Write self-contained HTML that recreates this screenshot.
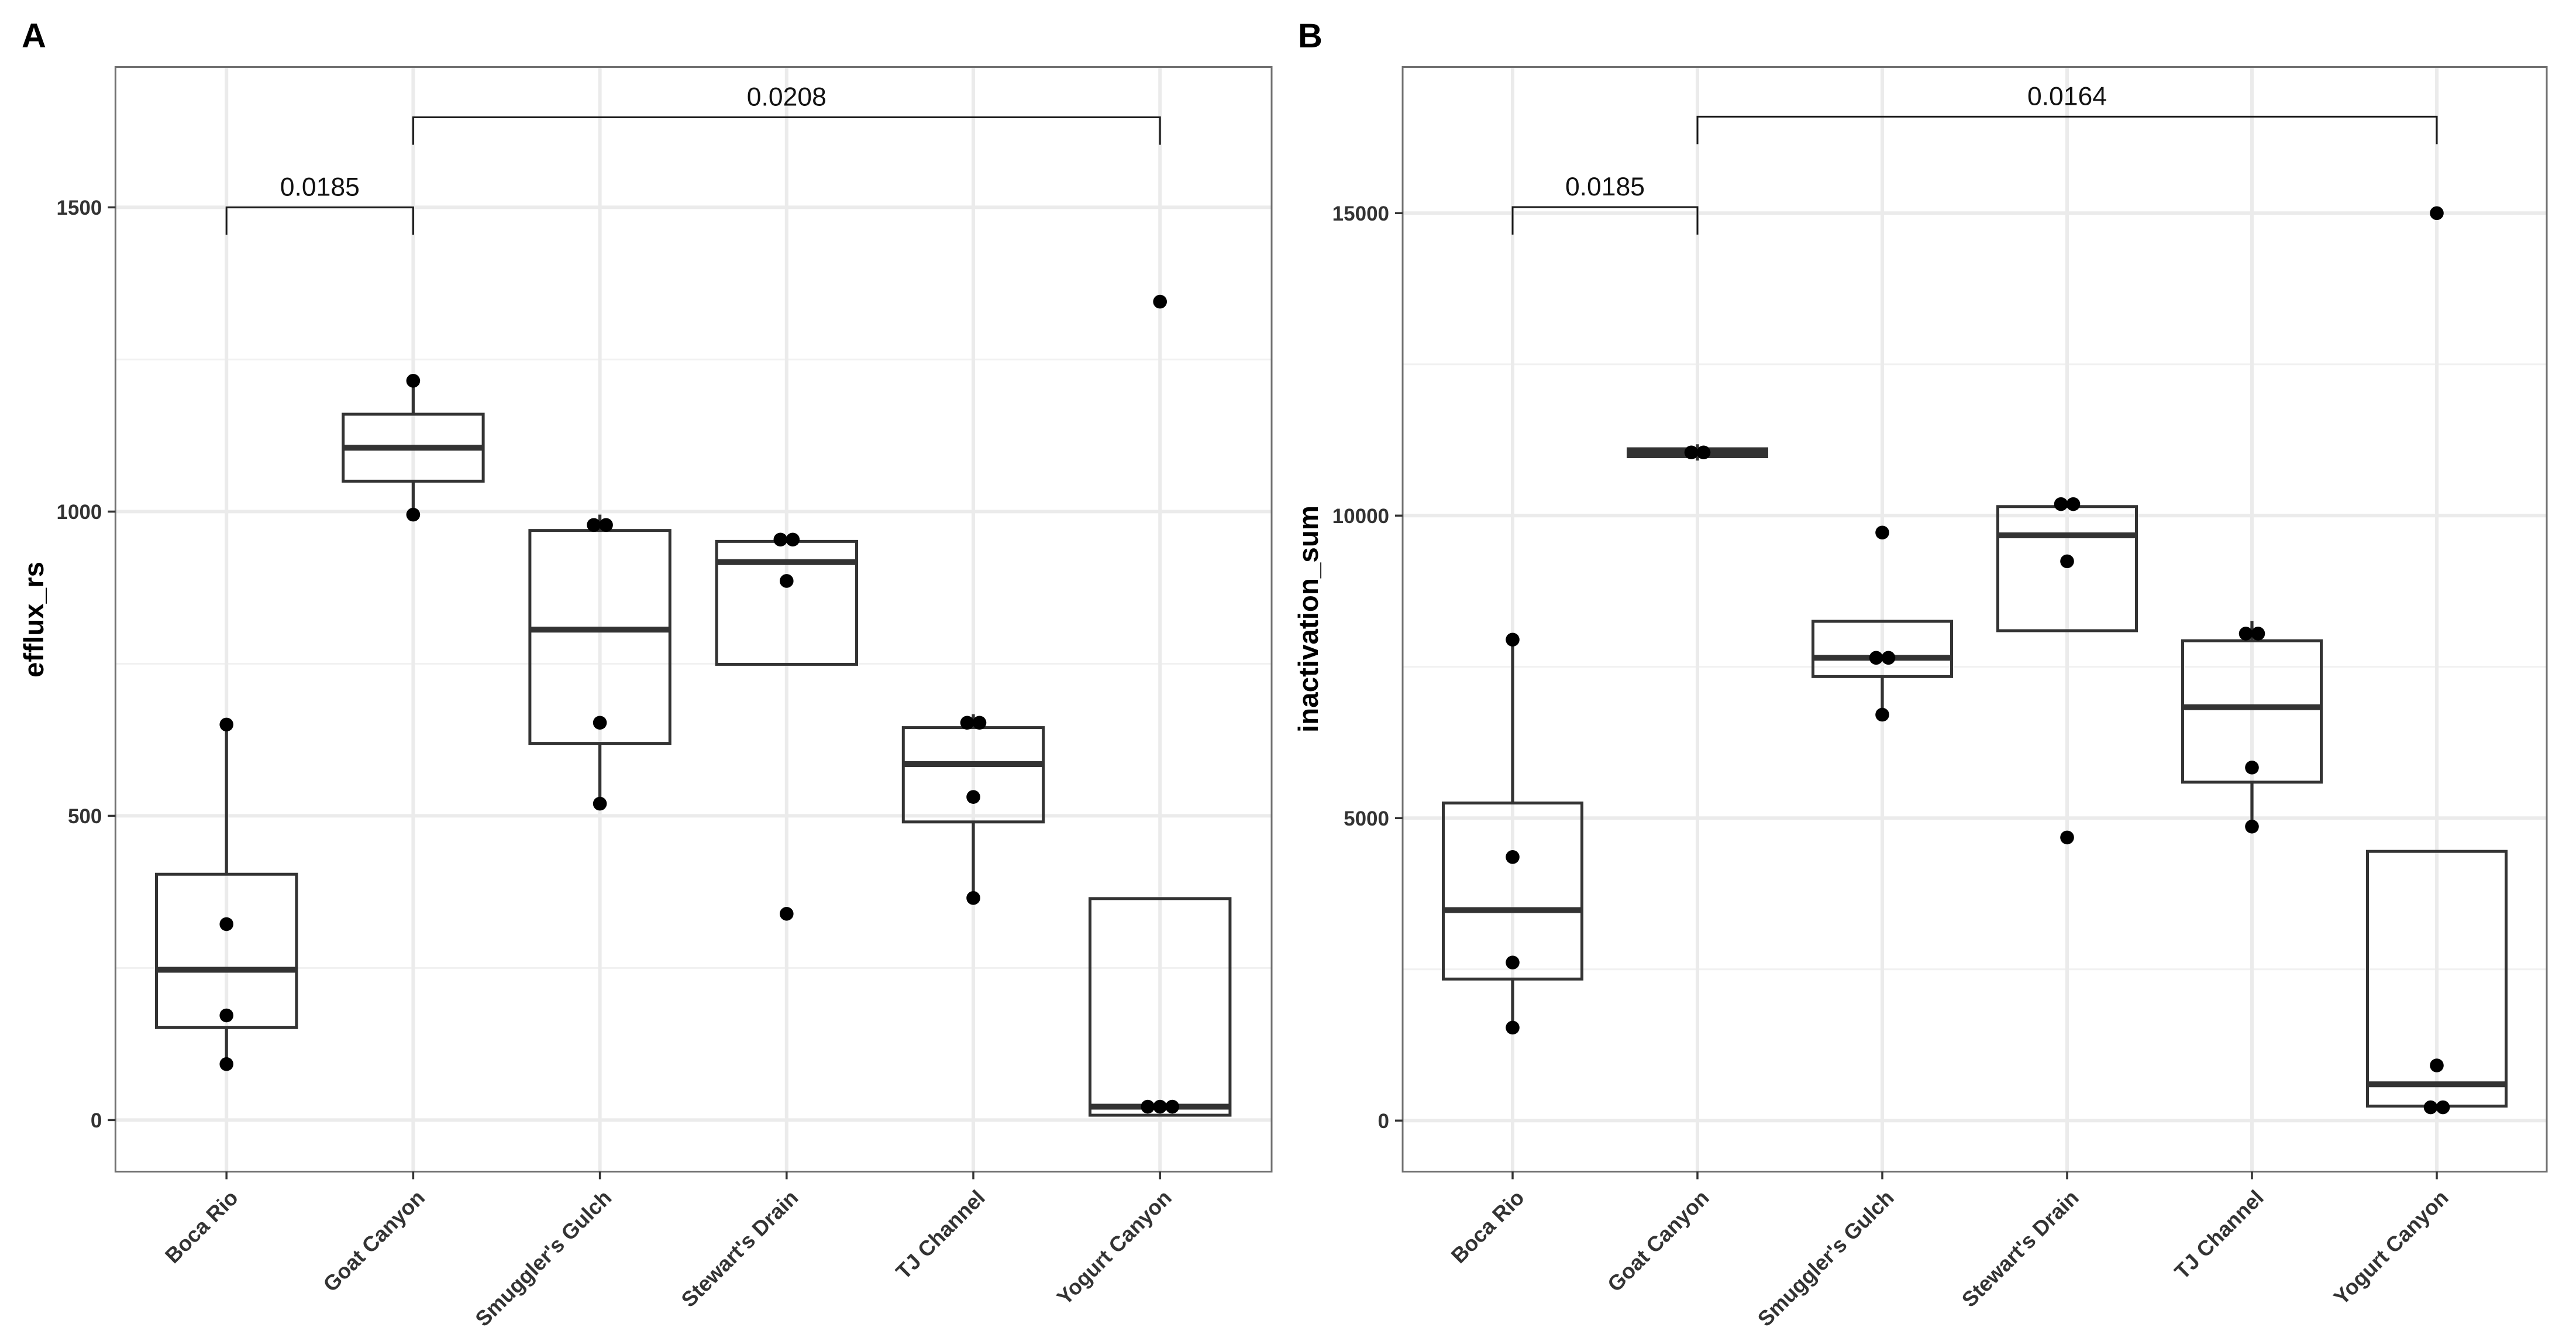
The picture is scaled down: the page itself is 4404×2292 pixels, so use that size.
<!DOCTYPE html>
<html lang="en">
<head>
<meta charset="utf-8">
<title>Box plots of efflux_rs and inactivation_sum by site</title>
<style>
  html, body { margin: 0; padding: 0; background: #ffffff; }
  body { width: 4404px; height: 2292px; overflow: hidden; }
  svg { display: block; }
  text { font-family: "Liberation Sans", sans-serif; }
</style>
</head>
<body>
<svg id="figure" xmlns="http://www.w3.org/2000/svg" width="4404" height="2292" viewBox="0 0 4404 2292">
  <rect x="0" y="0" width="4404" height="2292" fill="#ffffff"/>
  <text x="37" y="81" font-size="58" font-weight="700" fill="#000000">A</text>
  <text x="2219" y="81" font-size="58" font-weight="700" fill="#000000">B</text>
  <text transform="translate(74 1059) rotate(-90)" text-anchor="middle" font-size="47.5" font-weight="700" fill="#000000">efflux_rs</text>
  <text transform="translate(2253 1058) rotate(-90)" text-anchor="middle" font-size="47.5" font-weight="700" fill="#000000">inactivation_sum</text>
  <g id="panel-a"></g>
  <g id="panel-b"></g>
</svg>
<script>
// Shared categories
const categories = ["Boca Rio", "Goat Canyon", "Smuggler's Gulch", "Stewart's Drain", "TJ Channel", "Yogurt Canyon"];

// Panel A: efflux_rs
const effluxTicks = [0, 500, 1000, 1500];
const effluxMinorTicks = [250, 750, 1250];
const effluxQ1 = [152, 1050, 619, 749, 490, 8];
const effluxMedian = [247, 1105, 806, 917, 585, 22];
const effluxQ3 = [404, 1160, 969, 951, 645, 364];
const effluxWhiskerLow = [92, 995, 520, 749, 365, 8];
const effluxWhiskerHigh = [650, 1215, 995, 954, 667, 364];
const effluxPoints = [
  [650, 322, 172, 92],
  [1215, 995],
  [978, 978, 653, 520],
  [954, 954, 886, 339],
  [653, 653, 531, 365],
  [1345, 22, 22, 22]
];
const effluxBracketFrom = [0, 1];
const effluxBracketTo = [1, 5];
const effluxBracketLevel = [1500, 1648];
const effluxBracketLabels = ["0.0185", "0.0208"];

// Panel B: inactivation_sum
const inactivationTicks = [0, 5000, 10000, 15000];
const inactivationMinorTicks = [2500, 7500, 12500];
const inactivationQ1 = [2340, 10975, 7340, 8098, 5594, 240];
const inactivationMedian = [3480, 11040, 7650, 9674, 6833, 600];
const inactivationQ3 = [5250, 11105, 8253, 10150, 7932, 4450];
const inactivationWhiskerLow = [1537, 10910, 6710, 8098, 4860, 240];
const inactivationWhiskerHigh = [7950, 11180, 8253, 10190, 8260, 4450];
const inactivationPoints = [
  [7950, 4357, 2613, 1537],
  [11045, 11045],
  [9720, 7650, 7650, 6710],
  [10190, 10190, 9245, 4680],
  [8050, 8050, 5836, 4860],
  [15000, 912, 220, 220]
];
const inactivationBracketFrom = [0, 1];
const inactivationBracketTo = [1, 5];
const inactivationBracketLevel = [15100, 16595];
const inactivationBracketLabels = ["0.0185", "0.0164"];

const SVG_NS = "http://www.w3.org/2000/svg";

function make(parent, tag, attrs, name, text) {
  const el = document.createElementNS(SVG_NS, tag);
  for (const key in attrs) el.setAttribute(key, attrs[key]);
  
  
  if (text !== undefined) el.textContent = text;
  parent.appendChild(el);
  return el;
}

function slug(s) {
  return s.toLowerCase().replace(/[^a-z0-9]+/g, '-');
}

function drawPanel(p) {
  const root = document.getElementById(p.id);
  const xScale = i => p.xFirst + i * p.xStep;
  const yScale = v => p.yZero - v * p.yPerUnit;
  const boxHalf = p.xStep * 0.375;

  // Minor gridlines
  p.minorTicks.forEach(t => {
    make(root, 'line', { x1: p.left, x2: p.right, y1: yScale(t), y2: yScale(t), stroke: '#f1f1f1', 'stroke-width': 3 }, p.id + '-minor-gridline-' + t);
  });
  // Major gridlines
  p.ticks.forEach(t => {
    make(root, 'line', { x1: p.left, x2: p.right, y1: yScale(t), y2: yScale(t), stroke: '#ebebeb', 'stroke-width': 6 }, p.id + '-major-gridline-' + t);
  });
  categories.forEach((c, i) => {
    make(root, 'line', { x1: xScale(i), x2: xScale(i), y1: p.top, y2: p.bottom, stroke: '#ebebeb', 'stroke-width': 6 }, p.id + '-vertical-gridline-' + slug(c));
  });

  // Boxes
  categories.forEach((c, i) => {
    const cx = xScale(i);
    const g = make(root, 'g', {}, p.id + '-box-' + slug(c));
    if (p.whiskerHigh[i] > p.q3[i]) {
      make(g, 'line', { x1: cx, x2: cx, y1: yScale(p.q3[i]), y2: yScale(p.whiskerHigh[i]), stroke: '#333333', 'stroke-width': 5.2 }, 'upper-whisker');
    }
    if (p.whiskerLow[i] < p.q1[i]) {
      make(g, 'line', { x1: cx, x2: cx, y1: yScale(p.q1[i]), y2: yScale(p.whiskerLow[i]), stroke: '#333333', 'stroke-width': 5.2 }, 'lower-whisker');
    }
    make(g, 'rect', {
      x: cx - boxHalf, y: yScale(p.q3[i]), width: boxHalf * 2,
      height: yScale(p.q1[i]) - yScale(p.q3[i]),
      fill: 'none', stroke: '#333333', 'stroke-width': 5
    }, 'interquartile-box');
    make(g, 'line', { x1: cx - boxHalf, x2: cx + boxHalf, y1: yScale(p.median[i]), y2: yScale(p.median[i]), stroke: '#333333', 'stroke-width': 10 }, 'median-line');
  });

  // Points: tied values sit side by side
  categories.forEach((c, i) => {
    const vals = p.points[i];
    const groups = [];
    vals.forEach(v => {
      const hit = groups.find(g => Math.abs(yScale(g[0]) - yScale(v)) < 3);
      if (hit) hit.push(v); else groups.push([v]);
    });
    groups.forEach(group => {
      group.forEach((v, k) => {
        const off = (k - (group.length - 1) / 2) * p.dotGap;
        make(root, 'circle', { cx: xScale(i) + off, cy: yScale(v), r: 11.8, fill: '#000000' }, p.id + '-point-' + slug(c));
      });
    });
  });

  // Significance brackets
  p.bracketLabels.forEach((label, b) => {
    const x1 = xScale(p.bracketFrom[b]);
    const x2 = xScale(p.bracketTo[b]);
    const y = yScale(p.bracketLevel[b]);
    const g = make(root, 'g', {}, p.id + '-significance-bracket-' + label);
    make(g, 'path', {
      d: 'M' + x1 + ' ' + (y + 47) + 'V' + y + 'H' + x2 + 'V' + (y + 47),
      fill: 'none', stroke: '#1a1a1a', 'stroke-width': 3
    }, 'bracket-line');
    make(g, 'text', {
      x: (x1 + x2) / 2, y: y - 20, 'text-anchor': 'middle', 'font-size': 44.5, fill: '#111111'
    }, 'p-value-label', label);
  });

  // Panel border
  make(root, 'rect', { x: p.left, y: p.top, width: p.right - p.left, height: p.bottom - p.top, fill: 'none', stroke: '#707070', 'stroke-width': 3 }, p.id + '-border');

  // Y axis
  p.ticks.forEach(t => {
    make(root, 'line', { x1: p.left - 13, x2: p.left, y1: yScale(t), y2: yScale(t), stroke: '#333333', 'stroke-width': 3.5 }, p.id + '-y-tick-' + t);
    make(root, 'text', { x: p.left - 23, y: yScale(t) + 12.5, 'text-anchor': 'end', 'font-size': 35, 'font-weight': 700, fill: '#333333' }, p.id + '-y-tick-label-' + t, String(t));
  });

  // X axis
  categories.forEach((c, i) => {
    const cx = xScale(i);
    make(root, 'line', { x1: cx, x2: cx, y1: p.bottom, y2: p.bottom + 13, stroke: '#333333', 'stroke-width': 3.5 }, p.id + '-x-tick-' + slug(c));
    make(root, 'text', {
      transform: 'translate(' + (cx + 22) + ' ' + (p.bottom + 47) + ') rotate(-45)',
      'text-anchor': 'end', 'font-size': 36.5, 'font-weight': 700, fill: '#333333'
    }, p.id + '-x-tick-label-' + slug(c), c);
  });
}

drawPanel({
  id: 'panel-a', left: 197.4, right: 2174, top: 114.5, bottom: 2002.5,
  xFirst: 387.2, xStep: 319.2, yZero: 1914.4, yPerUnit: 1.04, dotGap: 21,
  ticks: effluxTicks, minorTicks: effluxMinorTicks,
  q1: effluxQ1, median: effluxMedian, q3: effluxQ3,
  whiskerLow: effluxWhiskerLow, whiskerHigh: effluxWhiskerHigh, points: effluxPoints,
  bracketFrom: effluxBracketFrom, bracketTo: effluxBracketTo,
  bracketLevel: effluxBracketLevel, bracketLabels: effluxBracketLabels
});

drawPanel({
  id: 'panel-b', left: 2398, right: 4354, top: 114.5, bottom: 2002.5,
  xFirst: 2586, xStep: 316, yZero: 1915.3, yPerUnit: 0.1034, dotGap: 21,
  ticks: inactivationTicks, minorTicks: inactivationMinorTicks,
  q1: inactivationQ1, median: inactivationMedian, q3: inactivationQ3,
  whiskerLow: inactivationWhiskerLow, whiskerHigh: inactivationWhiskerHigh, points: inactivationPoints,
  bracketFrom: inactivationBracketFrom, bracketTo: inactivationBracketTo,
  bracketLevel: inactivationBracketLevel, bracketLabels: inactivationBracketLabels
});
</script>
</body>
</html>
